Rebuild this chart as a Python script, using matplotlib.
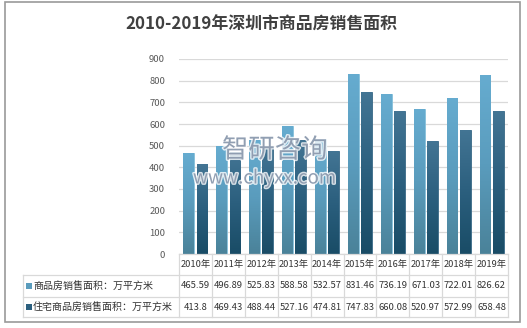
import numpy as np
import matplotlib
matplotlib.use("Agg")
import matplotlib.pyplot as plt
import matplotlib.patheffects as pe
from matplotlib.colors import LinearSegmentedColormap
from matplotlib.lines import Line2D
from matplotlib.patches import Rectangle
from matplotlib.transforms import blended_transform_factory

plt.rcParams['font.family'] = ['Noto Sans CJK SC', 'DejaVu Sans']

years = ['2010年', '2011年', '2012年', '2013年', '2014年',
         '2015年', '2016年', '2017年', '2018年', '2019年']
commercial = [465.59, 496.89, 525.83, 588.58, 532.57, 831.46, 736.19, 671.03, 722.01, 826.62]
residential = [413.8, 469.43, 488.44, 527.16, 474.81, 747.83, 660.08, 520.97, 572.99, 658.48]
commercial_txt = ['465.59', '496.89', '525.83', '588.58', '532.57',
                  '831.46', '736.19', '671.03', '722.01', '826.62']
residential_txt = ['413.8', '469.43', '488.44', '527.16', '474.81',
                   '747.83', '660.08', '520.97', '572.99', '658.48']
series_names = ['商品房销售面积：万平方米', '住宅商品房销售面积：万平方米']
yticks = [0, 100, 200, 300, 400, 500, 600, 700, 800, 900]

W, H = 527, 328


def fx(px):
    return px / W


def fy(py):
    return 1 - py / H


fig = plt.figure(figsize=(W / 100, H / 100), dpi=100)
fig.patch.set_facecolor('white')

# outer frame
fig.add_artist(Rectangle((fx(5), fy(322)), fx(520) - fx(5), fy(2) - fy(322),
                         transform=fig.transFigure, fill=False,
                         edgecolor='#9a9a9a', linewidth=1.2))

fig.text(fx(261), fy(25), '2010-2019年深圳市商品房销售面积', ha='center', va='center',
         fontsize=12.2, fontweight='bold', color='#404040')

ax = fig.add_axes([fx(179), fy(254), fx(508) - fx(179), fy(59) - fy(254)])
x = np.arange(len(years))
w = 0.33
b1 = ax.bar(x - 0.2, commercial, w, color='#58a0c2', edgecolor='#86c1dc', linewidth=0.6, zorder=3)
b2 = ax.bar(x + 0.2, residential, w, color='#2c5f7f', edgecolor='#3a6a88', linewidth=0.6, zorder=3)

# vertical gradient fill inside each bar
grad = np.linspace(0, 1, 256).reshape(-1, 1)
cm1 = LinearSegmentedColormap.from_list('c1', ['#4a8299', '#5a9cbd', '#66acd0'])
cm2 = LinearSegmentedColormap.from_list('c2', ['#194c66', '#2b5f7e', '#437594'])
for bars, cm in [(b1, cm1), (b2, cm2)]:
    for p in bars:
        x0, bw, h = p.get_x(), p.get_width(), p.get_height()
        im = ax.imshow(grad, cmap=cm, origin='lower', aspect='auto',
                       extent=[x0, x0 + bw, 0, h], zorder=3.5)
        im.set_clip_path(p)

ax.set_xlim(-0.5, len(years) - 0.5)
ax.set_ylim(0, 900)
ax.set_yticks(yticks)
ax.set_xticks([])
ax.tick_params(axis='y', length=0, pad=10, labelsize=6.8, labelcolor='#595959')
for s in ax.spines.values():
    s.set_visible(False)
ax.grid(axis='y', color='#d9d9d9', linewidth=0.9, zorder=0)
ax.set_axisbelow(True)

# data table under the axes
tr = blended_transform_factory(ax.transData, fig.transFigure)
line_c = '#d9d9d9'


def hline(px0, px1, py):
    fig.add_artist(Line2D([fx(px0), fx(px1)], [fy(py), fy(py)], transform=fig.transFigure,
                          color=line_c, linewidth=0.9))


for i in range(len(years) + 1):
    fig.add_artist(Line2D([i - 0.5, i - 0.5], [fy(254), fy(317)], transform=tr,
                          color=line_c, linewidth=0.9))
hline(179, 508, 254)
hline(23, 508, 275)
hline(23, 508, 297)
hline(23, 508, 317)
fig.add_artist(Line2D([fx(23), fx(23)], [fy(275), fy(317)], transform=fig.transFigure,
                      color=line_c, linewidth=0.9))

txt_c = '#333333'
for i, yr in enumerate(years):
    fig.text(i, fy(265), yr, transform=tr, ha='center', va='center', fontsize=6.7, color=txt_c)
    fig.text(i, fy(286), commercial_txt[i], transform=tr, ha='center', va='center',
             fontsize=6.8, color=txt_c)
    fig.text(i, fy(307), residential_txt[i], transform=tr, ha='center', va='center',
             fontsize=6.8, color=txt_c)

for row_y, name, col in [(286, series_names[0], '#5a9cbd'), (307, series_names[1], '#2b5f7e')]:
    fig.add_artist(Rectangle((fx(26), fy(row_y + 3)), fx(6), fy(0) - fy(6),
                             transform=fig.transFigure, facecolor=col, edgecolor='none'))
    fig.text(fx(33), fy(row_y), name, ha='left', va='center', fontsize=7.2, color=txt_c)

# watermark
halo = [pe.withStroke(linewidth=2, foreground='white', alpha=0.8)]
fig.text(fx(222), fy(150), '智研咨询', ha='left', va='center', fontsize=19,
         color='#6d7f99', alpha=0.7, zorder=10, path_effects=halo)
fig.text(fx(193), fy(178), 'www.chyxx.com', ha='left', va='center', fontsize=13.5,
         color='#6d7f99', alpha=0.7, zorder=10, path_effects=halo)

fig.savefig('out.png', dpi=100)
